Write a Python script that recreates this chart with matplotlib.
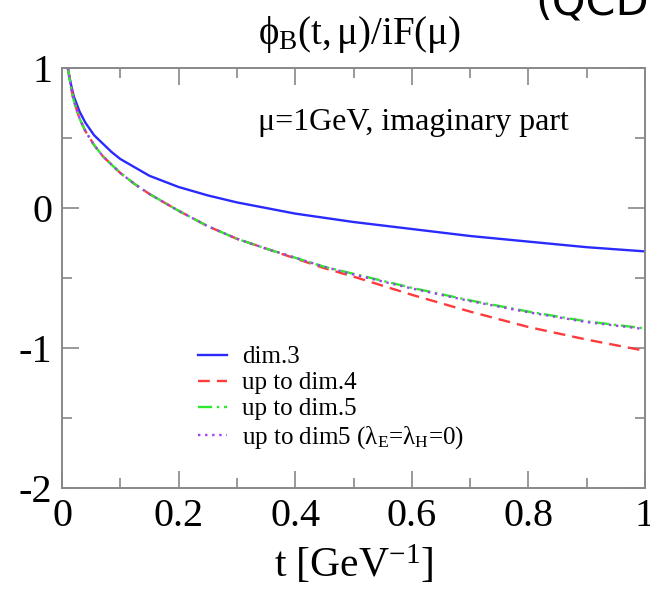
import matplotlib
matplotlib.use("Agg")
import matplotlib.pyplot as plt
from matplotlib.ticker import MultipleLocator

plt.rcParams['font.family'] = ['Liberation Serif', 'DejaVu Serif']
plt.rcParams['mathtext.fontset'] = 'custom'
plt.rcParams['mathtext.rm'] = 'Liberation Serif'
plt.rcParams['mathtext.it'] = 'Liberation Serif:italic'

t = [0.01, 0.015, 0.02, 0.03, 0.04, 0.055, 0.07, 0.085, 0.1, 0.125, 0.15, 0.2,
     0.25, 0.3, 0.35, 0.4, 0.45, 0.5, 0.6, 0.7, 0.8, 0.9, 1.0]
dim3 = [1.0, 0.89, 0.80, 0.69, 0.61, 0.52, 0.46, 0.40, 0.35, 0.29, 0.23, 0.15,
        0.09, 0.04, 0.0, -0.04, -0.07, -0.10, -0.15, -0.20, -0.24, -0.28, -0.31]
dim4 = [1.0, 0.87, 0.77, 0.64, 0.55, 0.45, 0.37, 0.31, 0.25, 0.17, 0.10, -0.02,
        -0.13, -0.22, -0.29, -0.36, -0.43, -0.49, -0.62, -0.74, -0.85, -0.94, -1.02]
dim5 = [1.0, 0.87, 0.77, 0.64, 0.55, 0.45, 0.37, 0.31, 0.25, 0.17, 0.10, -0.02,
        -0.13, -0.22, -0.29, -0.355, -0.42, -0.47, -0.57, -0.66, -0.74, -0.81, -0.86]
dim5_0 = [1.0, 0.87, 0.77, 0.64, 0.55, 0.45, 0.37, 0.31, 0.25, 0.17, 0.10, -0.02,
          -0.13, -0.22, -0.29, -0.355, -0.42, -0.475, -0.575, -0.665, -0.745, -0.815, -0.865]

labels = ['dim.3', 'up to dim.4', 'up to dim.5',
          r'up to dim5 (λ$_\mathrm{E}$=λ$_\mathrm{H}$=0)']

fig = plt.figure(figsize=(6.5, 5.89), dpi=100)
ax = fig.add_axes([62/650, 1-488/589, (645-62)/650, (488-68)/589])

ax.plot(t, dim3, color='#2a2aff', lw=1.7, ls='-', label=labels[0])
ax.plot(t, dim4, color='#ff3a3a', lw=1.7, ls=(0, (5, 3)), label=labels[1])
ax.plot(t, dim5, color='#2ee82e', lw=1.7, ls=(0, (6, 2, 1, 2)), label=labels[2])
ax.plot(t, dim5_0, color='#a040f0', lw=1.7, ls=(0, (1, 2)), label=labels[3])

ax.set_xlim(0, 1)
ax.set_ylim(-2, 1)
ax.xaxis.set_minor_locator(MultipleLocator(0.1))
ax.yaxis.set_minor_locator(MultipleLocator(0.5))
ax.set_xticks([0, 0.2, 0.4, 0.6, 0.8, 1.0])
ax.set_xticklabels(['0', '0.2', '0.4', '0.6', '0.8', '1'])
ax.set_yticks([-2, -1, 0, 1])
ax.set_yticklabels(['-2', '-1', '0', '1'])

ax.tick_params(which='both', direction='in', top=True, right=True, color='#888888', width=1.2)
ax.tick_params(which='major', length=12, labelsize=29, pad=7)
ax.tick_params(which='minor', length=7)
for s in ax.spines.values():
    s.set_color('#888888')
    s.set_linewidth(1.4)

ax.set_xlabel(r't [GeV$^\mathrm{-1}$]', fontsize=30, labelpad=6)
fig.text(0.553, 1-44/589, r'$\mathrm{ϕ_B(t,μ)/iF(μ)}$', fontsize=28, ha='center', va='baseline')
fig.text(535/650, 1-15/589, '(QCD', fontsize=31, family='DejaVu Sans', ha='left', va='baseline')

ax.text(0.602, 0.871, 'μ=1GeV, imaginary part', fontsize=23, ha='center', va='center',
        transform=ax.transAxes)

leg = ax.legend(loc='upper left', bbox_to_anchor=(0.212, 0.368), frameon=False,
                fontsize=18, handlelength=1.15, handletextpad=0.6, labelspacing=0.14,
                borderpad=0)

fig.savefig('out.png', dpi=100)
